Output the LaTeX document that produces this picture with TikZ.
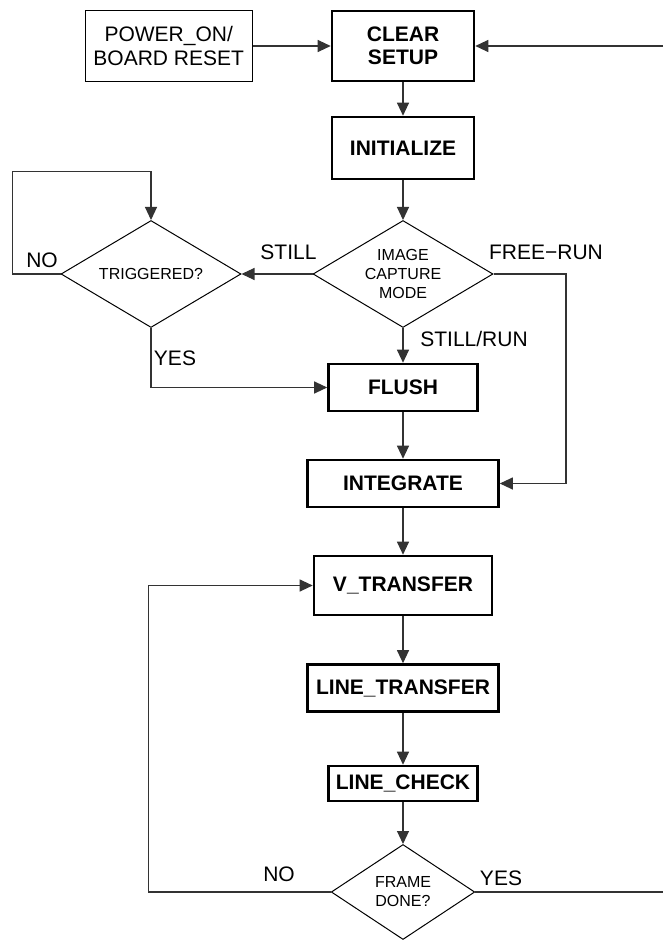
\documentclass[tikz,border=0pt]{standalone}
\usepackage{fontspec}
\setmainfont{Liberation Sans}
\usetikzlibrary{shapes.geometric,arrows.meta}
\begin{document}
\begin{tikzpicture}[x=1pt,y=-1pt,
  thickbox/.style={draw=black,line width=2.6pt,rectangle,inner sep=0pt,align=center,font=\fontsize{21}{23.5}\selectfont\bfseries},
  thinbox/.style={draw=black,line width=1.1pt,rectangle,inner sep=0pt,align=center,font=\fontsize{21}{23.5}\selectfont},
  decision/.style={draw=black,line width=1pt,diamond,inner sep=0pt,align=center,font=\fontsize{16}{19}\selectfont},
  lbl/.style={inner sep=0pt,font=\fontsize{21}{24}\selectfont},
  conn/.style={draw=black!80,line width=1.1pt,-{Triangle[length=13pt,width=12pt]}},
  wire/.style={draw=black!80,line width=1.1pt}]
\useasboundingbox[fill=white] (0,0) rectangle (663,941);

% nodes
\node[thinbox,minimum width=167pt,minimum height=71pt] (power) at (168.7,46) {POWER\_ON/\\BOARD RESET};
\node[thickbox,minimum width=142pt,minimum height=70pt] (clear) at (403,46) {CLEAR\\SETUP};
\node[thickbox,minimum width=142pt,minimum height=62pt] (init) at (403,148) {INITIALIZE};
\node[decision,aspect=1.68,minimum width=180pt,minimum height=107pt] (icm) at (403,274) {IMAGE\\CAPTURE\\MODE};
\node[decision,aspect=1.68,minimum width=180pt,minimum height=107pt] (trig) at (151,274) {TRIGGERED?};
\node[thickbox,minimum width=149pt,minimum height=47pt] (flush) at (403,387.5) {FLUSH};
\node[thickbox,minimum width=191pt,minimum height=47pt] (integ) at (403,483.5) {INTEGRATE};
\node[thickbox,minimum width=178pt,minimum height=59pt] (vtr) at (403,585.5) {V\_TRANSFER};
\node[thickbox,minimum width=191pt,minimum height=47pt] (ltr) at (403,688) {LINE\_TRANSFER};
\node[thickbox,minimum width=149pt,minimum height=35pt] (lchk) at (403,783.5) {LINE\_CHECK};
\node[decision,aspect=1.51,minimum width=143.5pt,minimum height=95pt] (frame) at (403,892) {FRAME\\DONE?};

% labels
\node[lbl] (lno1) at (42,260) {NO};
\node[lbl] (lstill) at (288.5,252) {STILL};
\node[lbl] (lfree) at (546,252) {FREE−RUN};
\node[lbl] (lstillrun) at (474,339) {STILL/RUN};
\node[lbl] (lyes1) at (175,358.7) {YES};
\node[lbl] (lno2) at (279,874.7) {NO};
\node[lbl] (lyes2) at (501,878) {YES};

% helper coordinates
\coordinate (rin) at (663,46);
\coordinate (rout) at (663,892);
\coordinate (tl) at (12.7,171.7);
\coordinate (fr) at (566,274);
\coordinate (lp) at (148.5,892);

% connectors
\draw[conn] (power.east) -- (clear.west);
\draw[conn] (rin) -- (clear.east);
\draw[conn] (clear.south) -- (init.north);
\draw[conn] (init.south) -- (icm.north);
\draw[conn] (icm.west) -- (trig.east);
\draw[conn] (trig.west) -| (tl) -| (trig.north);
\draw[conn] (icm.south) -- (flush.north);
\draw[conn] (trig.south) |- (flush.west);
\draw[conn] (icm.east) -- (fr) |- (integ.east);
\draw[conn] (flush.south) -- (integ.north);
\draw[conn] (integ.south) -- (vtr.north);
\draw[conn] (vtr.south) -- (ltr.north);
\draw[conn] (ltr.south) -- (lchk.north);
\draw[conn] (lchk.south) -- (frame.north);
\draw[conn] (frame.west) -- (lp) |- (vtr.west);
\draw[wire] (frame.east) -- (rout);
\end{tikzpicture}
\end{document}
